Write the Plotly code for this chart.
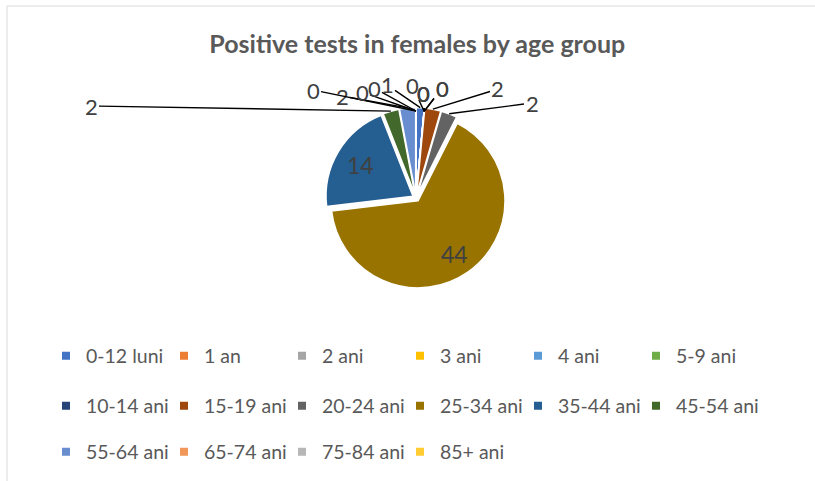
import math
import plotly.graph_objects as go

# ---------------- data ----------------
categories = ['0-12 luni', '1 an', '2 ani', '3 ani', '4 ani', '5-9 ani',
              '10-14 ani', '15-19 ani', '20-24 ani', '25-34 ani', '35-44 ani',
              '45-54 ani', '55-64 ani', '65-74 ani', '75-84 ani', '85+ ani']
values = [1, 0, 0, 0, 0, 0, 0, 2, 2, 44, 14, 2, 2, 0, 0, 0]
colors = ['#4472C4', '#ED7D31', '#A5A5A5', '#FFC000', '#5B9BD5', '#70AD47',
          '#264478', '#9E480E', '#636363', '#997300', '#255E91', '#43682B',
          '#698ED0', '#F1975A', '#B7B7B7', '#FFCD33']
title_text = 'Positive tests in females by age group'

# ---------------- layout constants ----------------
W, H = 815, 481
CX, CY = 416, 198          # pie centre (px)
R = 87                      # pie radius (px)
PULL = 0.04
BOX = 2 * R * (1 + PULL)
FONT = 'Lato'
TXT = '#404040'

# text placement (px) of outside data labels, by category index
label_pos = {
    0: (387, 85), 1: (412, 85), 2: (423, 93), 3: (423, 93), 4: (423, 93),
    5: (442, 88), 6: (442, 88), 7: (498, 89), 8: (532, 103),
    11: (91, 106), 12: (342, 96), 13: (313, 90), 14: (362, 92), 15: (374, 88),
}
inside = {9: 0.74, 10: 0.70}

fig = go.Figure()
fig.add_trace(go.Pie(
    labels=categories, values=values, sort=False, direction='clockwise',
    rotation=0, pull=PULL, textinfo='none', hoverinfo='label+value',
    marker=dict(colors=colors, line=dict(color='white', width=1.5)),
    showlegend=False,
    domain=dict(x=[(CX - BOX / 2) / W, (CX + BOX / 2) / W],
                y=[1 - (CY + BOX / 2) / H, 1 - (CY - BOX / 2) / H]),
))

# legend: a 6-column grid, one small legend per entry
row_y = [356, 406, 452]
LX = 46
STEP = 118
NCOL = 6
legend_layouts = {}
for i, (c, col) in enumerate(zip(categories, colors)):
    name = 'legend' if i == 0 else 'legend%d' % (i + 1)
    fig.add_trace(go.Scatter(
        x=[None], y=[None], mode='markers', name=c,
        marker=dict(symbol='square', size=8, color=col),
        legend=name, showlegend=True, hoverinfo='skip'))
    legend_layouts[name] = dict(
        orientation='h', xanchor='left', yanchor='middle',
        font=dict(family=FONT, size=19.5, color='#595959'),
        bgcolor='rgba(0,0,0,0)',
        x=(LX + (i % NCOL) * STEP) / W, y=1 - row_y[i // NCOL] / H)

# data labels computed from cumulative values
total = sum(values)
cum = 0
annotations = []
for i, v in enumerate(values):
    a0 = cum / total * 360
    cum += v
    a1 = cum / total * 360
    mid = math.radians((a0 + a1) / 2)
    sx, sy = math.sin(mid), -math.cos(mid)
    shift = PULL * R if v > 0 else 0
    if i in inside:
        rr = inside[i] * R + shift
        px, py = CX + rr * sx, CY + rr * sy
        annotations.append(dict(x=px / W, y=1 - py / H, xref='paper', yref='paper',
                                text=str(v), showarrow=False,
                                font=dict(family=FONT, size=23, color=TXT)))
    else:
        rr = R + shift
        px, py = CX + rr * sx, CY + rr * sy
        tx, ty = label_pos[i]
        annotations.append(dict(x=px / W, y=1 - py / H, xref='paper', yref='paper',
                                text=str(v), showarrow=True, arrowhead=0,
                                arrowwidth=1.4, arrowcolor='black', standoff=0,
                                ax=tx - px, ay=ty - py,
                                font=dict(family=FONT, size=22, color=TXT)))

fig.update_layout(
    width=W, height=H,
    margin=dict(l=0, r=0, t=0, b=0),
    paper_bgcolor='white', plot_bgcolor='white',
    title=dict(text='<b>' + title_text + '</b>', x=0.512, xanchor='center',
               y=1 - 44 / H, yanchor='middle',
               font=dict(family=FONT, size=25, color='#595959')),
    xaxis=dict(visible=False), yaxis=dict(visible=False),
    annotations=annotations,
    shapes=[
        dict(type='line', xref='paper', yref='paper', x0=7 / W, x1=1.0,
             y0=1 - 6 / H, y1=1 - 6 / H, line=dict(color='#D9D9D9', width=1)),
        dict(type='line', xref='paper', yref='paper', x0=7 / W, x1=7 / W,
             y0=0, y1=1 - 6 / H, line=dict(color='#D9D9D9', width=1)),
    ],
    **legend_layouts,
)

fig.write_html('out.html', config={'displayModeBar': False},
               post_script="document.body.style.margin='0px';")
